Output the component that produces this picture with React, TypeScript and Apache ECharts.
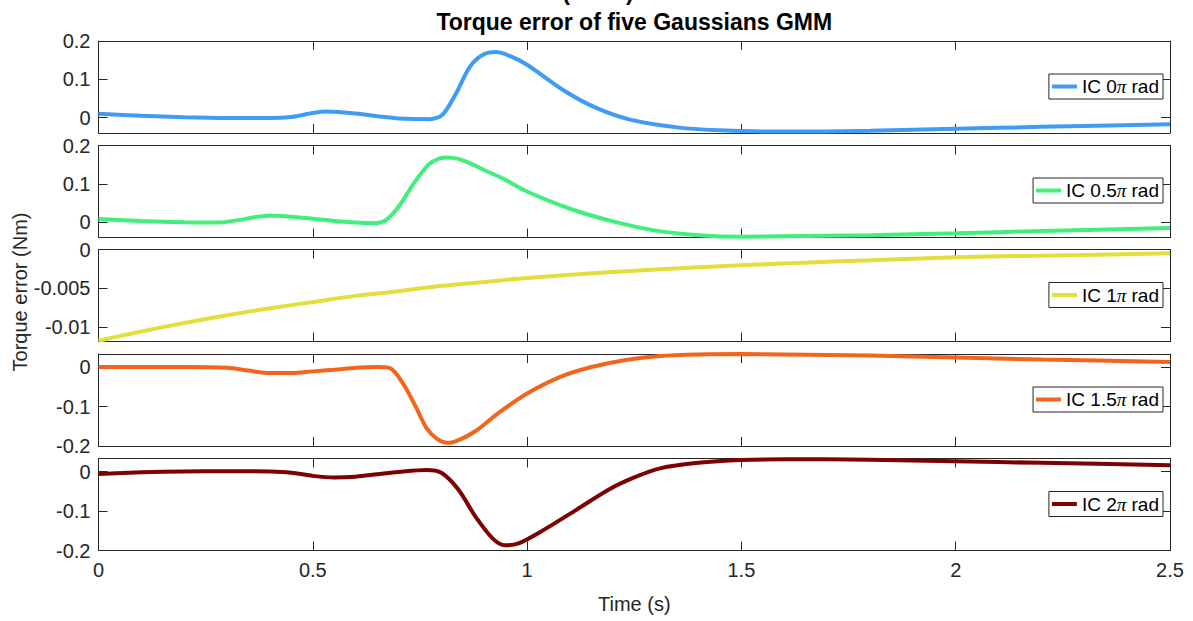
import React, { useEffect, useRef } from "react";
import * as echarts from "echarts";

// Torque error of each initial condition (IC) over time, one subplot per IC.
const seriesNames = ["IC 0π rad", "IC 0.5π rad", "IC 1π rad", "IC 1.5π rad", "IC 2π rad"];
const seriesColors = ["#3f9cf4", "#42ef7c", "#e2de3a", "#f3651b", "#7e0000"];

const ic0Time = [0, 0.1, 0.2, 0.3, 0.4, 0.45, 0.5, 0.53, 0.56, 0.6, 0.656, 0.7, 0.773, 0.803, 0.835, 0.866, 0.897, 0.928, 0.966, 1.0, 1.083, 1.16, 1.24, 1.355, 1.45, 1.55, 1.65, 1.8, 2.0, 2.2, 2.5];
const ic0Err = [0.01, 0.005, 0.001, -0.001, -0.001, 0.002, 0.012, 0.016, 0.015, 0.011, 0.003, -0.002, -0.004, 0.008, 0.065, 0.132, 0.164, 0.171, 0.158, 0.138, 0.073, 0.026, -0.005, -0.026, -0.033, -0.036, -0.036, -0.034, -0.029, -0.024, -0.017];

const ic05Time = [0, 0.1, 0.2, 0.28, 0.33, 0.37, 0.4, 0.43, 0.5, 0.56, 0.64, 0.67, 0.7, 0.735, 0.77, 0.795, 0.815, 0.84, 0.87, 0.9, 0.95, 1.0, 1.1, 1.2, 1.3, 1.4, 1.5, 1.6, 1.8, 2.0, 2.2, 2.5];
const ic05Err = [0.008, 0.003, 0.0, -0.001, 0.006, 0.014, 0.017, 0.016, 0.009, 0.002, -0.003, 0.005, 0.04, 0.1, 0.15, 0.166, 0.169, 0.165, 0.152, 0.136, 0.11, 0.08, 0.035, 0.002, -0.022, -0.034, -0.038, -0.037, -0.034, -0.029, -0.023, -0.015];

const ic1Time = [0, 0.1, 0.2, 0.3, 0.4, 0.5, 0.6, 0.7, 0.8, 0.9, 1.0, 1.2, 1.4, 1.6, 1.8, 2.0, 2.2, 2.5];
const ic1Err = [-0.0118, -0.0106, -0.0095, -0.0085, -0.0076, -0.0068, -0.006, -0.0054, -0.0047, -0.0042, -0.0037, -0.0029, -0.0023, -0.0018, -0.0014, -0.001, -0.0008, -0.0005];

const ic15Time = [0, 0.1, 0.2, 0.3, 0.35, 0.4, 0.45, 0.5, 0.55, 0.6, 0.65, 0.68, 0.71, 0.74, 0.765, 0.79, 0.815, 0.84, 0.88, 0.935, 1.0, 1.075, 1.15, 1.23, 1.31, 1.4, 1.5, 1.6, 1.8, 2.0, 2.2, 2.5];
const ic15Err = [0, 0, 0, -0.002, -0.009, -0.015, -0.015, -0.011, -0.007, -0.002, 0, -0.003, -0.041, -0.1, -0.154, -0.182, -0.192, -0.185, -0.162, -0.115, -0.067, -0.026, 0, 0.018, 0.028, 0.032, 0.033, 0.032, 0.029, 0.024, 0.019, 0.013];

const ic2Time = [0, 0.1, 0.2, 0.3, 0.4, 0.45, 0.5, 0.55, 0.6, 0.65, 0.7, 0.765, 0.8, 0.84, 0.88, 0.92, 0.948, 0.98, 1.037, 1.115, 1.19, 1.25, 1.31, 1.4, 1.5, 1.6, 1.7, 1.8, 2.0, 2.2, 2.5];
const ic2Err = [-0.006, -0.002, 0, 0.001, 0, -0.003, -0.011, -0.015, -0.013, -0.007, -0.001, 0.004, -0.003, -0.046, -0.115, -0.17, -0.187, -0.182, -0.149, -0.097, -0.046, -0.015, 0.008, 0.022, 0.029, 0.031, 0.031, 0.03, 0.026, 0.022, 0.016];

const seriesTimes = [ic0Time, ic05Time, ic1Time, ic15Time, ic2Time];
const seriesErrors = [ic0Err, ic05Err, ic1Err, ic15Err, ic2Err];

// Axis limits and tick labels of each subplot
const yMins = [-0.04, -0.04, -0.0119, -0.2, -0.2];
const yMaxs = [0.2, 0.2, 0, 0.033, 0.033];
const yTicks = [
  [0, 0.1, 0.2],
  [0, 0.1, 0.2],
  [-0.01, -0.005, 0],
  [-0.2, -0.1, 0],
  [-0.2, -0.1, 0],
];
const xMin = 0;
const xMax = 2.5;
const xStep = 0.5;

// Layout
const gridTops = [41, 145.5, 249.5, 354, 458.5];
const gridHeight = 92;
const gridLeft = 98.5;
const gridRight = 23;
const legendTops = [74, 178, 282.5, 387, 491.5];

const FONT = "Liberation Sans";
const AXIS_COLOR = "#262626";

export default function App() {
  const ref = useRef<HTMLDivElement>(null);

  useEffect(() => {
    if (!ref.current) return;
    const chart = echarts.init(ref.current, undefined, { renderer: "svg" });

    const axisLine = { show: true, onZero: false, lineStyle: { color: AXIS_COLOR, width: 1 } };
    const axisTick = { show: true, inside: true, length: 9, lineStyle: { color: AXIS_COLOR, width: 1 } };

    const grid = gridTops.map((top) => ({ left: gridLeft, right: gridRight, top, height: gridHeight }));

    const xAxis: any[] = [];
    const yAxis: any[] = [];
    gridTops.forEach((_, i) => {
      const base = {
        type: "value",
        gridIndex: i,
        min: xMin,
        max: xMax,
        interval: xStep,
        axisLine,
        axisTick,
        splitLine: { show: false },
      };
      xAxis.push({
        ...base,
        position: "bottom",
        axisLabel: {
          show: i === gridTops.length - 1,
          fontFamily: FONT,
          fontSize: 20,
          color: AXIS_COLOR,
          margin: 9,
        },
      });
      xAxis.push({ ...base, position: "top", axisLabel: { show: false } });

      const yBase = {
        type: "value",
        gridIndex: i,
        min: yMins[i],
        max: yMaxs[i],
        axisLine,
        splitLine: { show: false },
        axisTick: { ...axisTick, customValues: yTicks[i] },
      };
      yAxis.push({
        ...yBase,
        position: "left",
        axisLabel: {
          customValues: yTicks[i],
          fontFamily: FONT,
          fontSize: 20,
          color: AXIS_COLOR,
          margin: 8,
        },
      });
      yAxis.push({ ...yBase, position: "right", axisLabel: { show: false } });
    });

    const series = seriesNames.map((name, i) => ({
      name,
      type: "line",
      xAxisIndex: 2 * i,
      yAxisIndex: 2 * i,
      data: seriesTimes[i].map((t, k) => [t, seriesErrors[i][k]]),
      showSymbol: false,
      smooth: 0.3,
      color: seriesColors[i],
      lineStyle: { width: 4, color: seriesColors[i] },
      clip: true,
    }));

    const legend = seriesNames.map((name, i) => ({
      data: [name],
      right: 30,
      top: legendTops[i],
      orient: "vertical",
      icon: "rect",
      itemWidth: 25,
      itemHeight: 4,
      padding: [3, 4, 3, 3],
      backgroundColor: "#ffffff",
      borderColor: AXIS_COLOR,
      borderWidth: 1,
      borderRadius: 0,
      selectedMode: false,
      formatter: (n: string) => {
        const [a, b] = n.split("π");
        return `{t|${a}}{p|π}{t|${b}}`;
      },
      textStyle: {
        rich: {
          t: { fontFamily: FONT, fontSize: 19, color: "#000000" },
          p: { fontFamily: "Liberation Serif", fontStyle: "italic", fontSize: 19, color: "#000000" },
        },
      },
    }));

    const plotCenterX = gridLeft + (1193 - gridLeft - gridRight) / 2;

    chart.setOption({
      animation: false,
      backgroundColor: "#ffffff",
      grid,
      xAxis,
      yAxis,
      series,
      legend,
      graphic: [
        {
          type: "text",
          x: 598,
          y: -8,
          style: {
            text: "(GMM)",
            fontFamily: FONT,
            fontWeight: "bold",
            fontSize: 23,
            fill: "#000000",
            textAlign: "center",
            textVerticalAlign: "middle",
          },
        },
        {
          type: "text",
          x: plotCenterX,
          y: 22,
          style: {
            text: "Torque error of five Gaussians GMM",
            fontFamily: FONT,
            fontWeight: "bold",
            fontSize: 23,
            fill: "#000000",
            textAlign: "center",
            textVerticalAlign: "middle",
          },
        },
        {
          type: "text",
          x: 20,
          y: 292,
          rotation: Math.PI / 2,
          style: {
            text: "Torque error (Nm)",
            fontFamily: FONT,
            fontSize: 20,
            fill: AXIS_COLOR,
            textAlign: "center",
            textVerticalAlign: "middle",
          },
        },
        {
          type: "text",
          x: plotCenterX,
          y: 604,
          style: {
            text: "Time (s)",
            fontFamily: FONT,
            fontSize: 20,
            fill: AXIS_COLOR,
            textAlign: "center",
            textVerticalAlign: "middle",
          },
        },
      ],
    });

    return () => chart.dispose();
  }, []);

  return (
    <div
      ref={ref}
      style={{ position: "fixed", left: 0, top: 0, width: 1193, height: 621, background: "#ffffff" }}
    />
  );
}
